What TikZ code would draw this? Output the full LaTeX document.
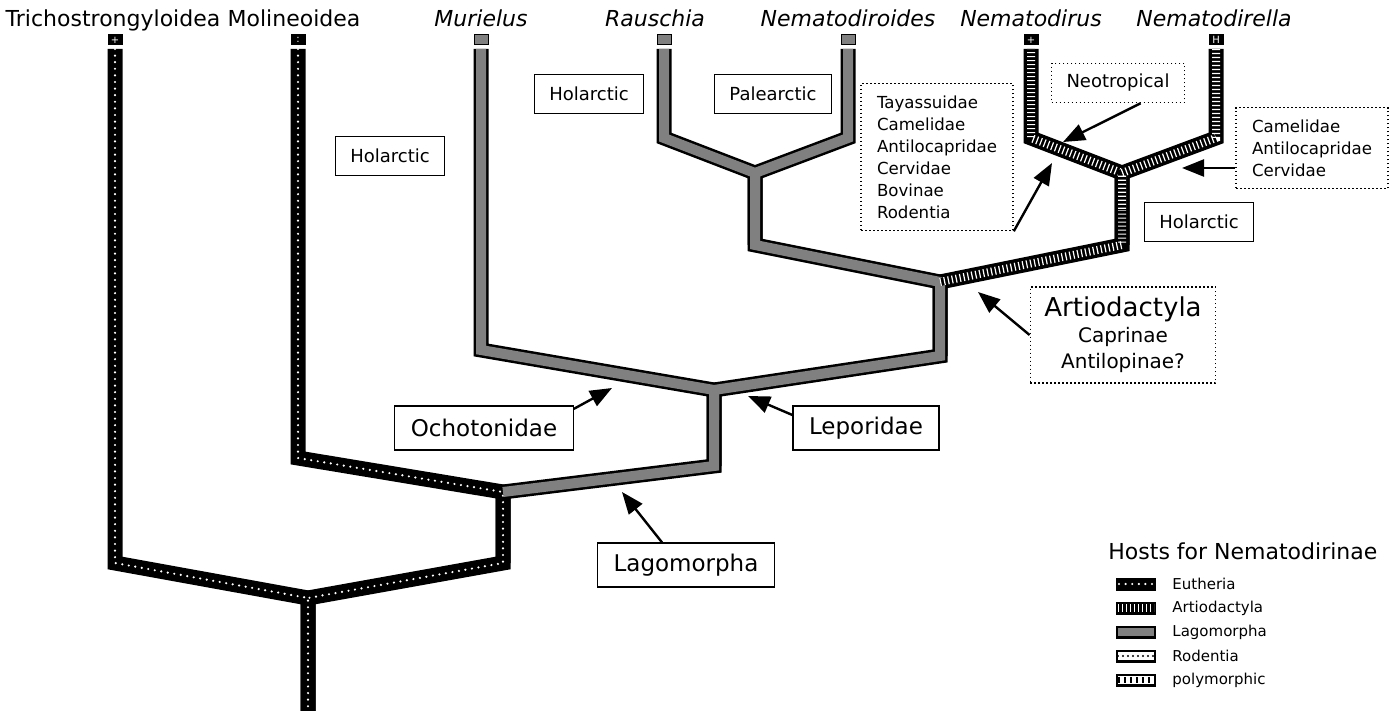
\documentclass[tikz,border=0pt]{standalone}
\usepackage{fontspec}
\setmainfont{DejaVu Sans}
\usetikzlibrary{arrows.meta,positioning}
\tikzset{
    tree/.style         = {x=0.5pt, y=-0.5pt},
    band/.style         = {draw=black, line width=7.5pt, line join=miter},
    eutheria/.style     = {draw=white, line width=1.2pt, line cap=round,
                           dash pattern=on 0pt off 3.3pt},
    lagomorpha/.style   = {draw=black!50, line width=5pt, line join=miter},
    artiodactyla/.style = {draw=white, line width=4pt,
                           dash pattern=on 0.6pt off 1.4pt,
                           preaction={draw=black, line width=4pt, solid}},
    rodentia/.style     = {draw=white, line width=5pt,
                           postaction={draw=black, line width=1.2pt,
                                       line cap=round, dash pattern=on 0pt off 2.5pt}},
    polymorphic/.style  = {draw=white, line width=5pt,
                           postaction={draw=black, line width=2.6pt,
                                       dash pattern=on 1pt off 2pt}},
    tipsq/.style        = {draw, line width=0.5pt, minimum width=7pt,
                           minimum height=5pt, inner sep=0pt,
                           font=\fontsize{5}{5}\selectfont},
    taxon/.style        = {font=\fontsize{11}{13}\selectfont, inner sep=0pt},
    genus/.style        = {taxon, font=\fontsize{11}{13}\selectfont\itshape},
    region/.style       = {draw, line width=0.6pt, fill=white,
                           font=\fontsize{9}{11}\selectfont,
                           inner xsep=7.5pt, minimum height=19.5pt},
    dotbox/.style       = {draw, line width=0.8pt, dash pattern=on 0.8pt off 1.2pt},
    hostlist/.style     = {dotbox, fill=white, align=left,
                           font=\fontsize{8.3}{11}\selectfont,
                           inner xsep=8pt, inner ysep=6pt},
    host/.style         = {draw, line width=0.6pt, fill=white,
                           font=\fontsize{11.5}{14}\selectfont,
                           inner xsep=8pt, minimum height=22pt},
    pointer/.style      = {-{Triangle[length=11pt,width=8.5pt]}, line width=1.2pt},
    key/.style          = {font=\fontsize{7.5}{9}\selectfont, inner sep=0pt, anchor=west}
}

\begin{document}
\begin{tikzpicture}[tree]
\useasboundingbox (0,0) rectangle (1392,711);

% ================= Junctions and tips =================
\coordinate (root) at (308,598);
\coordinate (base) at (308,711);
\coordinate (jMol) at (503,492);
\coordinate (jLag) at (714,390);
\coordinate (jArt) at (940,282);
\coordinate (jRau) at (755,173);
\coordinate (jNem) at (1122,173);
\foreach \n/\x in {Tri/115, Mol/298, Mur/481, Rau/664, Nds/848, Nrs/1031, Nla/1216}
    \coordinate (t\n) at (\x,49);

% ================= Band outlines =================
\draw[band] (tTri) -- (115,563) -- (root) -- (base);
\draw[band] (tMol) -- (298,458) -- (jMol) -- (503,563) -- (root) -- (base);
\draw[band] (tMur) -- (481,350) -- (jLag) -- (714,466) -- (jMol) -- (503,563);
\draw[band] (tRau) -- (664,138) -- (jRau) -- (755,245) -- (jArt) -- (940,356)
            -- (jLag) -- (714,466);
\draw[band] (tNds) -- (848,138) -- (jRau) -- (755,245);
\draw[band] (tNrs) -- (1031,138) -- (jNem) -- (1122,245) -- (jArt) -- (940,356);
\draw[band] (tNla) -- (1216,138) -- (jNem) -- (1122,245);

% ================= Host fills =================
\draw[eutheria] (tTri) -- (115,563) -- (root) -- (base);
\draw[eutheria] (tMol) -- (298,458) -- (jMol) -- (503,563) -- (root);
\draw[lagomorpha] (tRau) -- (664,138) -- (jRau) -- (755,245) -- (jArt)
                  -- (940,356) -- (jLag) -- (714,466) -- (jMol);
\draw[lagomorpha] (tNds) -- (848,138) -- (jRau) -- (755,200);
\draw[lagomorpha] (tMur) -- (481,350) -- (jLag) -- (714,420);
\draw[artiodactyla] (jArt) -- (1122,245) -- (jNem) -- (1031,138) -- (tNrs);
\draw[artiodactyla] (tNla) -- (1216,138) -- (jNem) -- (1122,210);

% ================= Tip states =================
\node[tipsq, fill=black, text=white] (sTri) at (115,40) {+};
\node[tipsq, fill=black, text=white] (sMol) at (298,40) {:};
\node[tipsq, fill=black!50] (sMur) at (481,40) {};
\node[tipsq, fill=black!50] (sRau) at (664,40) {};
\node[tipsq, fill=black!50] (sNds) at (848,40) {};
\node[tipsq, fill=black, text=white] (sNrs) at (1031,40) {+};
\node[tipsq, fill=black, text=white] (sNla) at (1216,40) {H};

% ================= Taxon names =================
\node[taxon, anchor=base] (lTri) at (113,27) {Trichostrongyloidea};
\node[taxon, anchor=base] (lMol) at (294,27) {Molineoidea};
\node[genus, anchor=base] (lMur) at (481,27) {Murielus};
\node[genus, anchor=base] (lRau) at (655,27) {Rauschia};
\node[genus, anchor=base] (lNds) at (848,27) {Nematodiroides};
\node[genus, anchor=base] (lNrs) at (1031,27) {Nematodirus};
\node[genus, anchor=base] (lNla) at (1214,27) {Nematodirella};

% ================= Distributions =================
\node[region] (holL) at (390,156) {Holarctic};
\node[region] (holR) at (589,94) {Holarctic};
\node[region] (pal) at (773,94) {Palearctic};
\node[region] (holN) at (1199,222) {Holarctic};
\node[region, dotbox] (neo) at (1118,83) {Neotropical};

% ================= Host groups =================
\node[hostlist] (tay) at (937,157)
    {Tayassuidae\\Camelidae\\Antilocapridae\\Cervidae\\Bovinae\\Rodentia};
\node[hostlist] (cam) at (1312,148) {Camelidae\\Antilocapridae\\Cervidae};
\node[host] (och) at (484,428) {Ochotonidae};
\node[host] (lep) at (866,428) {Leporidae};
\node[host] (lag) at (686,565) {Lagomorpha};
\node[dotbox, align=center, font=\fontsize{10}{13}\selectfont,
      inner xsep=7pt, inner ysep=5pt] (art) at (1123,335)
    {{\fontsize{13}{16}\selectfont Artiodactyla}\\Caprinae\\Antilopinae?};

% ================= Pointers =================
\coordinate (pOch) at (612,388);
\coordinate (pLep) at (748,396);
\coordinate (pLag) at (622,492);
\coordinate (pArt) at (978,292);
\coordinate (pTay) at (1052,163);
\coordinate (pNeo) at (1063,142);
\coordinate (pCam) at (1182,168);
\draw[pointer] (och.12) -- (pOch);
\draw[pointer] (lep.170) -- (pLep);
\draw[pointer] ([xshift=-12pt]lag.north) -- (pLag);
\draw[pointer] (art.west) -- (pArt);
\draw[pointer] (tay.south east) -- (pTay);
\draw[pointer] (neo.-42) -- (pNeo);
\draw[pointer] (cam.west |- pCam) -- (pCam);

% ================= Legend =================
\node[taxon, anchor=west] (hosts) at (1108,551) {Hosts for Nematodirinae};
\node[key] (kEut) at (1172,584) {Eutheria};
\node[key] (kArt) at (1172,608) {Artiodactyla};
\node[key] (kLag) at (1172,632) {Lagomorpha};
\node[key] (kRod) at (1172,656) {Rodentia};
\node[key] (kPol) at (1172,680) {polymorphic};
\foreach \k in {kEut,kArt,kLag,kRod,kPol}
    \draw[band, line width=6.5pt] ([xshift=-28pt]\k.west) -- ([xshift=-8pt]\k.west);
\draw[eutheria] ([xshift=-26.5pt]kEut.west) -- ([xshift=-8.5pt]kEut.west);
\draw[artiodactyla, line width=4pt] ([xshift=-27pt]kArt.west) -- ([xshift=-9pt]kArt.west);
\draw[lagomorpha, line width=4pt] ([xshift=-27pt]kLag.west) -- ([xshift=-9pt]kLag.west);
\draw[rodentia, line width=4pt] ([xshift=-27pt]kRod.west) -- ([xshift=-9pt]kRod.west);
\draw[polymorphic, line width=4pt] ([xshift=-27pt]kPol.west) -- ([xshift=-9pt]kPol.west);

\end{tikzpicture}
\end{document}
